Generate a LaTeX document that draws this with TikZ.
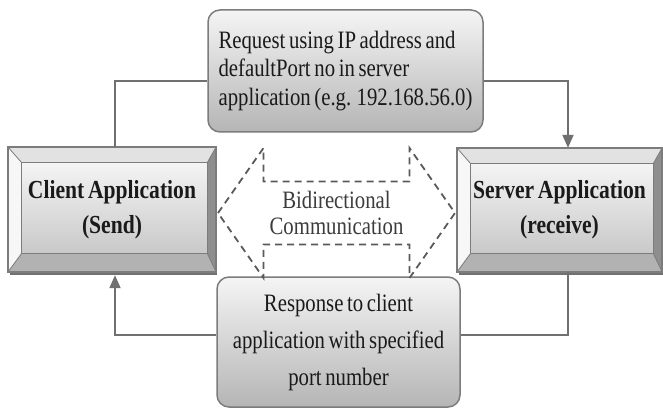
\documentclass[tikz,border=0pt]{standalone}
\usepackage{fontspec}
\setmainfont{Liberation Serif}[FakeStretch=0.83,WordSpace=0.7]
\usetikzlibrary{calc,arrows.meta,backgrounds}

\definecolor{linegray}{HTML}{707070}
\definecolor{edgegray}{HTML}{7C7C7C}
\definecolor{inktext}{HTML}{1A1A1A}
\definecolor{bevtop}{HTML}{E2E2E2}
\definecolor{bevleft}{HTML}{F7F7F7}
\definecolor{bevright}{HTML}{8E8E8E}
\definecolor{bevbot}{HTML}{B2B2B2}
\definecolor{facetop}{HTML}{F4F4F4}
\definecolor{facebot}{HTML}{C9C9C9}
\definecolor{dashgray}{HTML}{5A5A5A}

% Raised, bevelled frame behind a node (drawn on the background layer)
\newcommand{\bevelframe}[1]{%
  \begin{pgfonlayer}{background}
    \path (#1.north west) coordinate (#1nw) (#1.north east) coordinate (#1ne)
          (#1.south east) coordinate (#1se) (#1.south west) coordinate (#1sw);
    \path ($(#1nw)+(14,16)$) coordinate (#1inw) ($(#1ne)+(-9,16)$) coordinate (#1ine)
          ($(#1se)+(-9,-19)$) coordinate (#1ise) ($(#1sw)+(14,-19)$) coordinate (#1isw);
    \fill[linegray] ($(#1nw)+(2,4)$) rectangle ($(#1se)+(1,3)$);
    \fill[bevtop] (#1nw) -- (#1ne) -- (#1ine) -- (#1inw) -- cycle;
    \fill[bevleft] (#1nw) -- (#1inw) -- (#1isw) -- (#1sw) -- cycle;
    \fill[bevright] (#1ne) -- (#1se) -- (#1ise) -- (#1ine) -- cycle;
    \fill[bevbot] (#1sw) -- (#1isw) -- (#1ise) -- (#1se) -- cycle;
    \shade[top color=facetop, bottom color=facebot] (#1inw) rectangle (#1ise);
    \draw[edgegray, line width=0.8pt] (#1nw) -- (#1inw) (#1ne) -- (#1ine)
          (#1se) -- (#1ise) (#1sw) -- (#1isw);
    \draw[edgegray, line width=0.8pt] (#1inw) rectangle (#1ise);
    \draw[edgegray, line width=1.6pt] (#1nw) rectangle (#1se);
  \end{pgfonlayer}%
}

\begin{document}
\begin{tikzpicture}[x=1pt, y=-1pt,
  appbox/.style={inner sep=0pt, align=center, text=inktext,
    font=\fontsize{26}{35}\selectfont\bfseries},
  msgbox/.style={draw=edgegray, line width=1.5pt, rounded corners=12pt,
    top color=facetop!95!white, bottom color=facebot!90!black,
    inner sep=0pt, text=inktext},
  conn/.style={draw=linegray, line width=2pt},
  tip/.style={-{Triangle[length=13pt,width=11pt]}},
  dasharrow/.style={draw=dashgray, line width=1.8pt, dash pattern=on 7pt off 5pt}]

\begin{pgfonlayer}{background}
  \fill[white] (0,0) rectangle (663,414);
\end{pgfonlayer}
\useasboundingbox (0,0) rectangle (663,414);

% the two applications
\node[appbox, minimum width=208pt, minimum height=125pt] (client) at (112,209.5)
  {Client Application\\(Send)};
\bevelframe{client}
\node[appbox, minimum width=205pt, minimum height=124pt] (server) at (559.5,210)
  {Server Application\\(receive)};
\bevelframe{server}

% request / response messages
\node[msgbox, minimum width=275pt, minimum height=122pt, align=left,
  font=\fontsize{25}{28.5}\selectfont] (req) at (345.5,71)
  {Request using IP address and\\defaultPort no in server\\application (e.g. 192.168.56.0)};
\node[msgbox, minimum width=243pt, minimum height=130pt, align=center,
  font=\fontsize{25}{37}\selectfont] (resp) at (338.5,342)
  {Response to client\\application with specified\\port number};

% dashed double arrow in the middle
\node[align=center, text=inktext!85!white, font=\fontsize{25}{26}\selectfont,
  inner sep=0pt] (bidir) at (336.5,213) {Bidirectional\\Communication};
\begin{scope}[shift={(bidir.center)}]
  \draw[dasharrow] (-118.5,0) -- (-73,-65) -- (-73,-31.5) -- (73,-31.5) -- (73,-65)
    -- (118.5,0) -- (73,65) -- (73,31.5) -- (-73,31.5) -- (-73,65) -- cycle;
\end{scope}

% connectors
\coordinate (reqin) at ($(req.west)+(0,10)$);
\coordinate (reqout) at ($(req.east)+(0,10)$);
\coordinate (srvtop) at ($(server.north)+(8.5,0)$);
\coordinate (srvbot) at ($(server.south)+(8.5,0)$);
\coordinate (respin) at ($(resp.east)+(0,-7)$);
\coordinate (respout) at ($(resp.west)+(0,-7)$);
\coordinate (clibot) at ($(client.south)+(3,3)$);
\coordinate (clitop) at ($(client.north)+(3,0)$);

\draw[conn] (clitop) |- (reqin);
\draw[conn, tip] (reqout) -| (srvtop);
\draw[conn] (srvbot) |- (respin);
\draw[conn, tip] (respout) -| (clibot);
\end{tikzpicture}
\end{document}
